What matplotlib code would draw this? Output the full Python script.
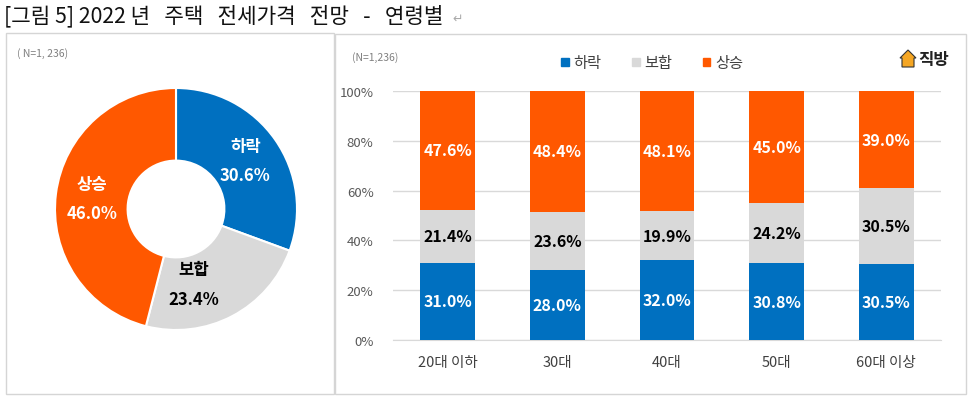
import numpy as np
import matplotlib
matplotlib.use("Agg")
import matplotlib.pyplot as plt
from matplotlib.patches import Rectangle, Polygon

plt.rcParams['font.family'] = ['Noto Sans CJK KR', 'DejaVu Sans']

# 데이터
groups = ['하락', '보합', '상승']
colors = ['#0070C0', '#D9D9D9', '#FF5800']
total_share = [30.6, 23.4, 46.0]

ages = ['20대 이하', '30대', '40대', '50대', '60대 이상']
down = [31.0, 28.0, 32.0, 30.8, 30.5]
flat = [21.4, 23.6, 19.9, 24.2, 30.5]
up = [47.6, 48.4, 48.1, 45.0, 39.0]

W, H = 972, 402
fig = plt.figure(figsize=(W / 100, H / 100), dpi=100)
fig.patch.set_facecolor('white')

def px(x, y, w, h):
    # pixel box (top-left origin) -> figure fraction
    return [x / W, 1 - (y + h) / H, w / W, h / H]

# title
fig.text(4 / W, 1 - 16 / H, '[그림 5] 2022 년   주택   전세가격   전망   -   연령별',
         fontsize=15.3, va='center', ha='left', color='#111111')
fig.text(452 / W, 1 - 19 / H, '↵', fontsize=9, va='center', color='#aaaaaa',
         family=['DejaVu Sans'])

# panel boxes
for (x0, y0, w0, h0) in [(6, 34, 328, 361), (335, 35, 631, 360)]:
    fig.patches.append(Rectangle((x0 / W, 1 - (y0 + h0) / H), w0 / W, h0 / H,
                                 transform=fig.transFigure, fill=False,
                                 edgecolor='#D5D5D5', linewidth=1))

fig.text(17 / W, 1 - 54 / H, '( N=1, 236)', fontsize=7.5, style='italic',
         color='#808080', va='center')
fig.text(352 / W, 1 - 58 / H, '(N=1,236)', fontsize=7.5, style='italic',
         color='#808080', va='center')

# donut
cx, cy, r = 176, 210, 121
axp = fig.add_axes(px(cx - r, cy - r, 2 * r, 2 * r))
wedges, _ = axp.pie(total_share, colors=colors, startangle=90, counterclock=False,
                    radius=1, wedgeprops=dict(width=0.6, edgecolor='white', linewidth=1.5))
axp.set_xlim(-1, 1)
axp.set_ylim(-1, 1)
for i, w in enumerate(wedges):
    ang = np.deg2rad((w.theta1 + w.theta2) / 2)
    rr = 0.7
    x, y = rr * np.cos(ang), rr * np.sin(ang)
    if groups[i] == '보합':
        x -= 0.18
    tc = 'black' if groups[i] == '보합' else 'white'
    axp.text(x, y, f'{groups[i]}\n{total_share[i]:.1f}%', ha='center', va='center',
             fontsize=12, fontweight='bold', color=tc, linespacing=1.8)

# stacked bars
ax = fig.add_axes(px(393, 92, 548, 249))
xs = np.arange(len(ages))
bottom = np.zeros(len(ages))
for vals, c, g in zip([down, flat, up], colors, groups):
    ax.bar(xs, vals, width=0.5, bottom=bottom, color=c, label=g, zorder=3)
    tc = 'black' if g == '보합' else 'white'
    for xi, v, b in zip(xs, vals, bottom):
        ax.text(xi, b + v / 2, f'{v:.1f}%', ha='center', va='center',
                fontsize=11.5, fontweight='bold', color=tc, zorder=4)
    bottom += np.array(vals)

ax.set_xlim(-0.5, len(ages) - 0.5)
ax.set_ylim(0, 100)
ax.set_yticks(range(0, 101, 20))
ax.set_yticklabels([f'{v}%' for v in range(0, 101, 20)])
ax.set_xticks(xs)
ax.set_xticklabels(ages)
ax.tick_params(axis='y', length=0, pad=14, labelsize=9.5, labelcolor='#595959')
ax.tick_params(axis='x', length=0, pad=11, labelsize=10.5, labelcolor='#404040')
ax.grid(axis='y', color='#D9D9D9', linewidth=1, zorder=0)
for s in ['top', 'right', 'left']:
    ax.spines[s].set_visible(False)
ax.spines['bottom'].set_color('#D9D9D9')

handles = [Rectangle((0, 0), 1, 1, color=c) for c in colors]
fig.legend(handles, groups, loc='center', bbox_to_anchor=(652 / W, 1 - 64 / H),
           ncol=3, frameon=False, fontsize=11, handlelength=0.5, handleheight=0.5,
           handletextpad=0.3, columnspacing=2.0, labelcolor='#404040')

# logo
hx, hy = 900, 60
house = [(hx, hy - 1), (hx + 8, hy - 9), (hx + 16, hy - 1), (hx + 14, hy - 1),
         (hx + 14, hy + 8), (hx + 2, hy + 8), (hx + 2, hy - 1)]
fig.patches.append(Polygon([(a / W, 1 - b / H) for a, b in house], closed=True,
                           transform=fig.transFigure, facecolor='#F5A623',
                           edgecolor='#333333', linewidth=0.8))
fig.text(918 / W, 1 - 60 / H, '직방', fontsize=12, fontweight='bold',
         color='#222222', va='center')

fig.savefig('out.png', dpi=100, facecolor='white')
